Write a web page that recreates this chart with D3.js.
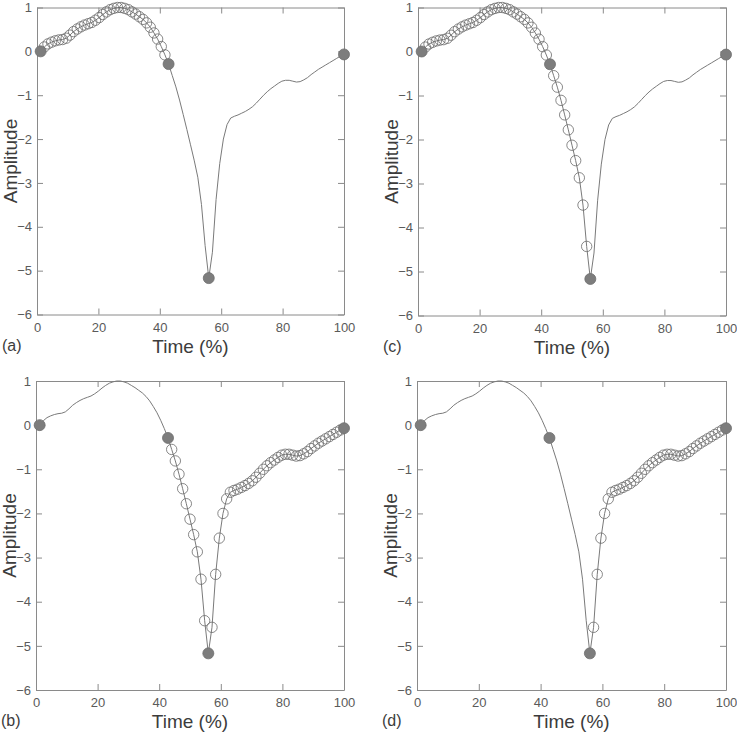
<!DOCTYPE html>
<html><head><meta charset="utf-8">
<script src="https://cdn.jsdelivr.net/npm/d3@7"></script>
<style>
html,body{margin:0;padding:0;background:#fff;}
svg{display:block;font-family:"Liberation Sans",Arial,sans-serif;}
</style></head>
<body><svg id="chart" width="737" height="735"></svg>
<script>
// Sample times (% of cycle), one per frame
const times = [1.19,2.38,3.57,4.76,5.95,7.14,8.33,9.52,10.71,11.90,13.10,14.29,15.48,16.67,17.86,19.05,20.24,21.43,22.62,23.81,25.00,26.19,27.38,28.57,29.76,30.95,32.14,33.33,34.52,35.71,36.90,38.10,39.29,40.48,41.67,42.86,44.05,45.24,46.43,47.62,48.81,50.00,51.19,52.38,53.57,54.76,55.95,57.14,58.33,59.52,60.71,61.90,63.10,64.29,65.48,66.67,67.86,69.05,70.24,71.43,72.62,73.81,75.00,76.19,77.38,78.57,79.76,80.95,82.14,83.33,84.52,85.71,86.90,88.10,89.29,90.48,91.67,92.86,94.05,95.24,96.43,97.62,98.81,100.00];
// Amplitude at each sample
const amplitude = [0.00,0.10,0.17,0.21,0.24,0.26,0.27,0.30,0.37,0.45,0.51,0.56,0.60,0.63,0.66,0.71,0.77,0.84,0.90,0.95,0.98,1.00,1.00,0.98,0.95,0.90,0.85,0.79,0.73,0.65,0.55,0.42,0.28,0.11,-0.08,-0.29,-0.55,-0.81,-1.11,-1.44,-1.78,-2.13,-2.48,-2.87,-3.49,-4.43,-5.17,-4.58,-3.38,-2.56,-2.00,-1.67,-1.52,-1.48,-1.45,-1.41,-1.37,-1.32,-1.26,-1.18,-1.09,-1.00,-0.92,-0.85,-0.79,-0.73,-0.68,-0.66,-0.66,-0.68,-0.70,-0.69,-0.65,-0.60,-0.53,-0.47,-0.41,-0.36,-0.31,-0.26,-0.21,-0.16,-0.11,-0.07];
// Key (filled) sample indices (0-based)
const keyIndex = [0, 35, 46, 83];
// Panel labels and the segments (0-based sample index ranges, inclusive) shown as open circles
const panelLabels = ["(a)", "(c)", "(b)", "(d)"];
const panelSegments = [
  [[1, 34]],
  [[1, 34], [36, 45]],
  [[36, 45], [47, 82]],
  [[47, 82]]
];
const xTicks = [0, 20, 40, 60, 80, 100];
const yTicks = [-6, -5, -4, -3, -2, -1, 0, 1];
const xTitle = "Time (%)";
const yTitle = "Amplitude";

// layout boxes [left, top, right, bottom]
const boxes = [
  [37, 7.5, 344, 314.5],
  [418, 7.5, 726, 315.5],
  [36, 381, 344, 690],
  [417, 381, 726, 690]
];

const svg = d3.select("#chart");
const pts = times.map((t, i) => ({t, a: amplitude[i], i}));
const fmt = d3.format("d");

boxes.forEach((b, p) => {
  const [L, T, R, B] = b;
  const w = R - L, h = B - T;
  const g = svg.append("g").attr("transform", `translate(${L},${T})`);
  const x = d3.scaleLinear().domain([0, 100]).range([0, w]);
  const y = d3.scaleLinear().domain([-6, 1]).range([h, 0]);

  const styleAxis = sel => {
    sel.selectAll("path.domain").attr("stroke", "#8a8a8a").attr("stroke-width", 1);
    sel.selectAll(".tick line").attr("stroke", "#8a8a8a").attr("stroke-width", 1);
    sel.selectAll(".tick text").attr("fill", "#5a5a5a").style("font-size", "13px").style("font-family", '"Liberation Sans",Arial,sans-serif');
  };

  g.append("g").attr("transform", `translate(0,${h})`)
    .call(d3.axisBottom(x).tickValues(xTicks).tickFormat(fmt).tickSizeInner(-6).tickSizeOuter(0).tickPadding(8))
    .call(styleAxis);
  g.append("g")
    .call(d3.axisTop(x).tickValues(xTicks).tickSizeInner(-6).tickSizeOuter(0).tickFormat(""))
    .call(styleAxis);
  g.append("g")
    .call(d3.axisLeft(y).tickValues(yTicks).tickFormat(fmt).tickSizeInner(-6).tickSizeOuter(0).tickPadding(5))
    .call(styleAxis);
  g.append("g").attr("transform", `translate(${w},0)`)
    .call(d3.axisRight(y).tickValues(yTicks).tickSizeInner(-6).tickSizeOuter(0).tickFormat(""))
    .call(styleAxis);

  // curve
  const line = d3.line().x(d => x(d.t)).y(d => y(d.a));
  g.append("path").datum(pts).attr("d", line)
    .attr("fill", "none").attr("stroke", "#7a7a7a").attr("stroke-width", 1);

  // open circles
  const openPts = [];
  panelSegments[p].forEach(([s, e]) => { for (let k = s; k <= e; k++) openPts.push(pts[k]); });
  g.append("g").selectAll("circle").data(openPts).join("circle")
    .attr("cx", d => x(d.t)).attr("cy", d => y(d.a)).attr("r", 5.2)
    .attr("fill", "none").attr("stroke", "#6a6a6a").attr("stroke-width", 0.8);

  // key filled circles
  g.append("g").selectAll("circle").data(keyIndex.map(k => pts[k])).join("circle")
    .attr("cx", d => x(d.t)).attr("cy", d => y(d.a)).attr("r", 5.5)
    .attr("fill", "#7d7d7d").attr("stroke", "#6d6d6d").attr("stroke-width", 0.8);

  // titles
  g.append("text").attr("x", w / 2).attr("y", h + 38)
    .attr("text-anchor", "middle").attr("fill", "#3c3c3c")
    .style("font-size", "19px").text(xTitle);
  g.append("text").attr("transform", `translate(-20,${h / 2}) rotate(-90)`)
    .attr("text-anchor", "middle").attr("fill", "#3c3c3c")
    .style("font-size", "19px").text(yTitle);
  g.append("text").attr("x", -35).attr("y", h + 36)
    .attr("text-anchor", "start").attr("fill", "#3c3c3c")
    .style("font-size", "16px").text(panelLabels[p]);
});
</script>
</body></html>
